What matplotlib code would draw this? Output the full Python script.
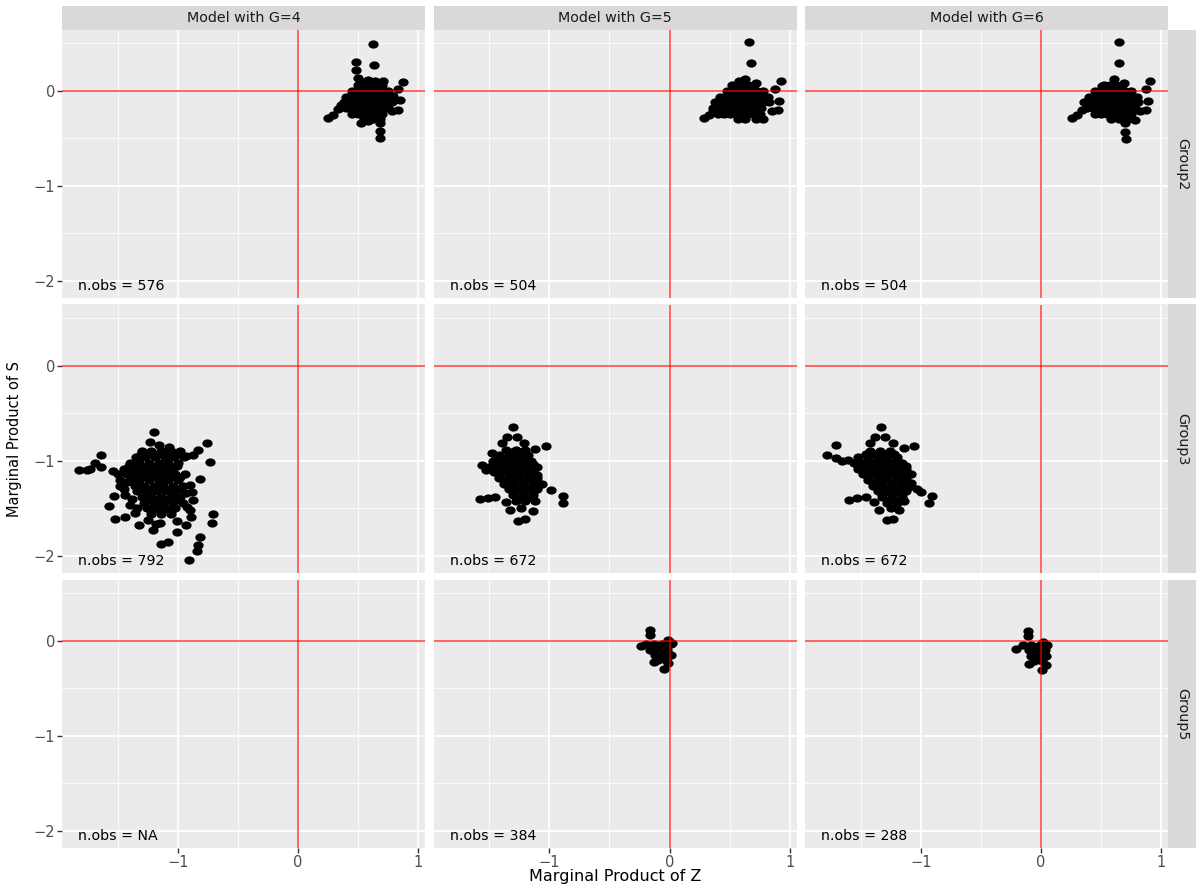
import numpy as np
import matplotlib
matplotlib.use("Agg")
import matplotlib.pyplot as plt
from matplotlib.path import Path
from matplotlib.transforms import Affine2D

models = ["Model with G=4", "Model with G=5", "Model with G=6"]
groups = ["Group2", "Group3", "Group5"]
n_obs = [["576", "504", "504"],
         ["792", "672", "672"],
         ["NA", "384", "288"]]

# (marginal product of Z, marginal product of S)
g2_g4 = [
    # dense blob
    (0.50, 0.06), (0.55, 0.06), (0.60, 0.06), (0.65, 0.06), (0.70, 0.06),
    (0.45, 0.00), (0.50, 0.00), (0.55, 0.00), (0.60, 0.00), (0.65, 0.00), (0.70, 0.00), (0.75, 0.00),
    (0.40, -0.06), (0.45, -0.06), (0.50, -0.06), (0.55, -0.06), (0.60, -0.06), (0.65, -0.06), (0.70, -0.06), (0.75, -0.06),
    (0.38, -0.12), (0.43, -0.12), (0.48, -0.12), (0.53, -0.12), (0.58, -0.12), (0.63, -0.12), (0.68, -0.12), (0.73, -0.12), (0.78, -0.12),
    (0.40, -0.18), (0.45, -0.18), (0.50, -0.18), (0.55, -0.18), (0.60, -0.18), (0.65, -0.18), (0.70, -0.18), (0.75, -0.18),
    (0.45, -0.24), (0.50, -0.24), (0.55, -0.24), (0.60, -0.24), (0.65, -0.24), (0.70, -0.24),
    (0.55, -0.29), (0.62, -0.29), (0.68, -0.29),
    (0.50, 0.14), (0.58, 0.12), (0.71, 0.11), (0.54, 0.09), (0.64, 0.10),
    # tails and outliers
    (0.25, -0.28), (0.29, -0.25), (0.33, -0.19), (0.36, -0.15),
    (0.62, 0.49), (0.48, 0.30), (0.48, 0.22), (0.63, 0.27),
    (0.87, 0.09), (0.83, 0.02), (0.85, -0.10), (0.83, -0.20), (0.79, -0.05), (0.78, -0.21),
    (0.68, -0.34), (0.68, -0.42), (0.68, -0.49), (0.52, -0.34), (0.58, -0.32),
]
g2_g5 = [
    (0.55, 0.06), (0.60, 0.06), (0.65, 0.06), (0.70, 0.06),
    (0.48, 0.00), (0.53, 0.00), (0.58, 0.00), (0.63, 0.00), (0.68, 0.00), (0.73, 0.00), (0.78, 0.00),
    (0.42, -0.06), (0.47, -0.06), (0.52, -0.06), (0.57, -0.06), (0.62, -0.06), (0.67, -0.06), (0.72, -0.06), (0.77, -0.06), (0.82, -0.06),
    (0.38, -0.12), (0.43, -0.12), (0.48, -0.12), (0.53, -0.12), (0.58, -0.12), (0.63, -0.12), (0.68, -0.12), (0.73, -0.12), (0.78, -0.12), (0.83, -0.12),
    (0.36, -0.18), (0.41, -0.18), (0.46, -0.18), (0.51, -0.18), (0.56, -0.18), (0.61, -0.18), (0.66, -0.18), (0.71, -0.18), (0.76, -0.18),
    (0.40, -0.24), (0.45, -0.24), (0.50, -0.24), (0.55, -0.24), (0.60, -0.24), (0.65, -0.24), (0.70, -0.24), (0.75, -0.24),
    (0.57, -0.29), (0.63, -0.29), (0.72, -0.29), (0.78, -0.29),
    (0.52, 0.06), (0.63, 0.13), (0.72, 0.08), (0.58, 0.10),
    (0.29, -0.28), (0.33, -0.25), (0.36, -0.21),
    (0.66, 0.52), (0.68, 0.29),
    (0.93, 0.10), (0.88, 0.02), (0.91, -0.11), (0.90, -0.20), (0.85, -0.21),
]
g2_g6 = [
    (0.52, 0.06), (0.57, 0.06), (0.62, 0.06), (0.67, 0.06),
    (0.45, 0.00), (0.50, 0.00), (0.55, 0.00), (0.60, 0.00), (0.65, 0.00), (0.70, 0.00), (0.75, 0.00),
    (0.40, -0.06), (0.45, -0.06), (0.50, -0.06), (0.55, -0.06), (0.60, -0.06), (0.65, -0.06), (0.70, -0.06), (0.75, -0.06), (0.80, -0.06),
    (0.36, -0.12), (0.41, -0.12), (0.46, -0.12), (0.51, -0.12), (0.56, -0.12), (0.61, -0.12), (0.66, -0.12), (0.71, -0.12), (0.76, -0.12), (0.81, -0.12),
    (0.38, -0.18), (0.43, -0.18), (0.48, -0.18), (0.53, -0.18), (0.58, -0.18), (0.63, -0.18), (0.68, -0.18), (0.73, -0.18), (0.78, -0.18),
    (0.45, -0.24), (0.50, -0.24), (0.55, -0.24), (0.60, -0.24), (0.65, -0.24), (0.70, -0.24), (0.75, -0.24),
    (0.58, -0.29), (0.65, -0.29), (0.72, -0.29), (0.78, -0.31),
    (0.51, 0.05), (0.61, 0.13), (0.69, 0.08),
    (0.26, -0.28), (0.30, -0.25), (0.34, -0.20),
    (0.65, 0.52), (0.65, 0.29),
    (0.91, 0.10), (0.87, 0.02), (0.89, -0.11), (0.87, -0.20), (0.82, -0.21),
    (0.70, -0.34), (0.70, -0.43), (0.71, -0.51),
]

g3_g4 = [
    # dense blob
    (-1.30, -0.90), (-1.22, -0.90), (-1.14, -0.90), (-1.06, -0.90), (-0.98, -0.90),
    (-1.31, -0.93), (-1.23, -0.93), (-1.15, -0.93), (-1.07, -0.93), (-0.99, -0.93),
    (-1.35, -0.96), (-1.27, -0.96), (-1.19, -0.96), (-1.11, -0.96), (-1.03, -0.96), (-0.95, -0.96),
    (-1.40, -1.02), (-1.32, -1.02), (-1.24, -1.02), (-1.16, -1.02), (-1.08, -1.02), (-1.00, -1.02),
    (-1.41, -1.05), (-1.33, -1.05), (-1.25, -1.05), (-1.17, -1.05), (-1.09, -1.05), (-1.01, -1.05),
    (-1.45, -1.08), (-1.37, -1.08), (-1.29, -1.08), (-1.21, -1.08), (-1.13, -1.08), (-1.05, -1.08),
    (-1.42, -1.14), (-1.34, -1.14), (-1.26, -1.14), (-1.18, -1.14), (-1.10, -1.14), (-1.02, -1.14), (-0.94, -1.14),
    (-1.38, -1.17), (-1.30, -1.17), (-1.22, -1.17), (-1.14, -1.17), (-1.06, -1.17), (-0.98, -1.17),
    (-1.40, -1.20), (-1.32, -1.20), (-1.24, -1.20), (-1.16, -1.20), (-1.08, -1.20), (-1.00, -1.20),
    (-1.36, -1.26), (-1.28, -1.26), (-1.20, -1.26), (-1.12, -1.26), (-1.04, -1.26), (-0.96, -1.26),
    (-1.30, -1.29), (-1.22, -1.29), (-1.14, -1.29), (-1.06, -1.29), (-0.98, -1.29),
    (-1.34, -1.32), (-1.26, -1.32), (-1.18, -1.32), (-1.10, -1.32), (-1.02, -1.32),
    (-1.30, -1.38), (-1.22, -1.38), (-1.14, -1.38), (-1.06, -1.38), (-0.98, -1.38),
    (-1.26, -1.41), (-1.18, -1.41), (-1.10, -1.41), (-1.02, -1.41),
    (-1.28, -1.44), (-1.20, -1.44), (-1.12, -1.44), (-1.04, -1.44), (-0.96, -1.44),
    (-1.26, -1.50), (-1.18, -1.50), (-1.10, -1.50), (-1.02, -1.50),
    (-1.22, -1.53), (-1.14, -1.53), (-1.06, -1.53),
    (-1.22, -1.56), (-1.14, -1.56), (-1.06, -1.56),
    (-1.48, -1.26), (-1.44, -1.36), (-1.40, -1.46), (-1.36, -1.55), (-1.42, -1.22), (-1.38, -1.40), (-1.34, -1.50),
    (-0.90, -1.25), (-0.88, -1.33), (-0.92, -1.48), (-0.90, -1.52),
    # spikes and outliers
    (-1.20, -0.70), (-1.23, -0.80), (-1.16, -0.83), (-1.07, -0.85),
    (-0.76, -0.81), (-0.73, -1.01), (-0.83, -0.88), (-0.87, -0.94), (-0.93, -0.95),
    (-1.82, -1.09), (-1.76, -1.09), (-1.73, -1.08), (-1.69, -1.02), (-1.64, -0.94), (-1.64, -1.06),
    (-1.54, -1.11), (-1.48, -1.20), (-1.50, -1.14),
    (-0.82, -1.19), (-0.93, -1.34), (-0.87, -1.41), (-0.89, -1.59), (-0.93, -1.67), (-1.01, -1.63),
    (-0.71, -1.56), (-0.72, -1.65), (-0.82, -1.80), (-0.83, -1.88), (-0.84, -1.95), (-0.91, -2.04),
    (-1.14, -1.87), (-1.08, -1.85), (-1.01, -1.75), (-1.21, -1.73), (-1.32, -1.67), (-1.18, -1.66),
    (-1.25, -1.62), (-1.15, -1.65),
    (-1.52, -1.61), (-1.44, -1.59), (-1.57, -1.47), (-1.53, -1.37), (-1.45, -1.30),
]
g3_g5 = [
    (-1.36, -0.88), (-1.28, -0.88), (-1.20, -0.88),
    (-1.32, -0.91), (-1.24, -0.91),
    (-1.42, -0.94), (-1.34, -0.94), (-1.26, -0.94), (-1.18, -0.94),
    (-1.43, -0.97), (-1.35, -0.97), (-1.27, -0.97), (-1.19, -0.97),
    (-1.47, -1.00), (-1.39, -1.00), (-1.31, -1.00), (-1.23, -1.00), (-1.15, -1.00),
    (-1.46, -1.03), (-1.38, -1.03), (-1.30, -1.03), (-1.22, -1.03), (-1.14, -1.03),
    (-1.50, -1.06), (-1.42, -1.06), (-1.34, -1.06), (-1.26, -1.06), (-1.18, -1.06), (-1.10, -1.06),
    (-1.46, -1.09), (-1.38, -1.09), (-1.30, -1.09), (-1.22, -1.09), (-1.14, -1.09),
    (-1.46, -1.12), (-1.38, -1.12), (-1.30, -1.12), (-1.22, -1.12), (-1.14, -1.12),
    (-1.42, -1.15), (-1.34, -1.15), (-1.26, -1.15), (-1.18, -1.15), (-1.10, -1.15),
    (-1.42, -1.18), (-1.34, -1.18), (-1.26, -1.18), (-1.18, -1.18), (-1.10, -1.18),
    (-1.38, -1.21), (-1.30, -1.21), (-1.22, -1.21), (-1.14, -1.21),
    (-1.38, -1.24), (-1.30, -1.24), (-1.22, -1.24), (-1.14, -1.24), (-1.06, -1.24),
    (-1.34, -1.27), (-1.26, -1.27), (-1.18, -1.27), (-1.10, -1.27),
    (-1.34, -1.30), (-1.26, -1.30), (-1.18, -1.30), (-1.10, -1.30),
    (-1.30, -1.33), (-1.22, -1.33), (-1.14, -1.33),
    (-1.30, -1.36), (-1.22, -1.36), (-1.14, -1.36),
    (-1.26, -1.39), (-1.18, -1.39),
    (-1.28, -1.42), (-1.20, -1.42),
    (-1.30, -0.64), (-1.35, -0.75), (-1.27, -0.75), (-1.39, -0.81), (-1.21, -0.81),
    (-1.03, -0.84), (-1.12, -0.87),
    (-1.56, -1.04), (-1.48, -0.92), (-1.53, -1.09),
    (-0.99, -1.31), (-0.89, -1.37), (-0.89, -1.44),
    (-1.58, -1.40), (-1.51, -1.39), (-1.45, -1.38), (-1.33, -1.52), (-1.14, -1.53), (-1.26, -1.63), (-1.20, -1.61),
    (-1.12, -1.42), (-1.36, -1.43), (-1.24, -1.50),
]
g3_g6 = [
    (-1.42, -0.90), (-1.34, -0.90), (-1.26, -0.90),
    (-1.46, -0.93), (-1.38, -0.93), (-1.30, -0.93), (-1.22, -0.93),
    (-1.52, -0.96), (-1.44, -0.96), (-1.36, -0.96), (-1.28, -0.96), (-1.20, -0.96),
    (-1.52, -0.99), (-1.44, -0.99), (-1.36, -0.99), (-1.28, -0.99), (-1.20, -0.99),
    (-1.56, -1.02), (-1.48, -1.02), (-1.40, -1.02), (-1.32, -1.02), (-1.24, -1.02), (-1.16, -1.02),
    (-1.52, -1.05), (-1.44, -1.05), (-1.36, -1.05), (-1.28, -1.05), (-1.20, -1.05), (-1.12, -1.05),
    (-1.52, -1.08), (-1.44, -1.08), (-1.36, -1.08), (-1.28, -1.08), (-1.20, -1.08), (-1.12, -1.08),
    (-1.48, -1.11), (-1.40, -1.11), (-1.32, -1.11), (-1.24, -1.11), (-1.16, -1.11),
    (-1.48, -1.14), (-1.40, -1.14), (-1.32, -1.14), (-1.24, -1.14), (-1.16, -1.14), (-1.08, -1.14),
    (-1.44, -1.17), (-1.36, -1.17), (-1.28, -1.17), (-1.20, -1.17), (-1.12, -1.17),
    (-1.44, -1.20), (-1.36, -1.20), (-1.28, -1.20), (-1.20, -1.20), (-1.12, -1.20),
    (-1.40, -1.23), (-1.32, -1.23), (-1.24, -1.23), (-1.16, -1.23), (-1.08, -1.23),
    (-1.40, -1.26), (-1.32, -1.26), (-1.24, -1.26), (-1.16, -1.26), (-1.08, -1.26),
    (-1.36, -1.29), (-1.28, -1.29), (-1.20, -1.29), (-1.12, -1.29),
    (-1.36, -1.32), (-1.28, -1.32), (-1.20, -1.32), (-1.12, -1.32),
    (-1.32, -1.35), (-1.24, -1.35), (-1.16, -1.35),
    (-1.32, -1.38), (-1.24, -1.38), (-1.16, -1.38),
    (-1.26, -1.41), (-1.18, -1.41),
    (-1.28, -1.44), (-1.20, -1.44),
    (-1.33, -0.64), (-1.38, -0.75), (-1.30, -0.75), (-1.42, -0.81), (-1.23, -0.81),
    (-1.06, -0.84), (-1.14, -0.86),
    (-1.71, -0.83), (-1.78, -0.94), (-1.71, -0.97), (-1.61, -0.99), (-1.66, -1.00),
    (-1.03, -1.29), (-0.91, -1.37), (-0.93, -1.44), (-1.00, -1.33),
    (-1.60, -1.41), (-1.53, -1.39), (-1.46, -1.38), (-1.35, -1.52), (-1.18, -1.52), (-1.28, -1.62), (-1.23, -1.61),
    (-1.14, -1.42), (-1.39, -1.43), (-1.25, -1.50),
]

g5_g4 = []
g5_g5 = [
    (-0.16, 0.12), (-0.16, 0.06), (-0.24, -0.05), (-0.01, 0.01), (0.02, -0.02),
    (-0.20, -0.03), (-0.13, -0.03), (-0.06, -0.03), (0.01, -0.03),
    (-0.16, -0.09), (-0.09, -0.09), (-0.02, -0.09),
    (-0.12, -0.15), (-0.05, -0.15), (0.01, -0.15),
    (-0.10, -0.20), (-0.03, -0.20),
    (-0.13, -0.22), (-0.01, -0.23), (-0.05, -0.29),
]
g5_g6 = [
    (-0.11, 0.10), (-0.11, 0.05), (-0.21, -0.08), (0.02, -0.01), (0.05, -0.04),
    (-0.15, -0.04), (-0.08, -0.04), (-0.01, -0.04), (0.04, -0.04),
    (-0.10, -0.10), (-0.03, -0.10), (0.03, -0.10),
    (-0.08, -0.16), (-0.01, -0.16), (0.04, -0.16),
    (-0.06, -0.21), (0.01, -0.21),
    (-0.10, -0.24), (0.04, -0.25), (0.01, -0.31),
]

points = [[g2_g4, g2_g5, g2_g6],
          [g3_g4, g3_g5, g3_g6],
          [g5_g4, g5_g5, g5_g6]]

W, H = 1196, 886
fig = plt.figure(figsize=(W / 100, H / 100), dpi=100)

# panel geometry in pixels
x0, y0, pw, ph = 62, 29.5, 363, 268.5
dx, dy = 371.5, 275

# the reference is a bit stretched sideways, so the dots are slightly oval
dot = Path.unit_circle().transformed(Affine2D().scale(1.25, 1.0))

for r in range(3):
    for c in range(3):
        left = x0 + c * dx
        top = y0 + r * dy
        ax = fig.add_axes([left / W, 1 - (top + ph) / H, pw / W, ph / H])
        ax.set_facecolor("#EBEBEB")
        ax.set_xlim(-1.964, 1.056)
        ax.set_ylim(-2.179, 0.647)
        ax.set_xticks([-1, 0, 1])
        ax.set_yticks([-2, -1, 0])
        ax.set_xticks([-1.5, -0.5, 0.5], minor=True)
        ax.set_yticks([-1.5, -0.5, 0.5], minor=True)
        ax.grid(which="major", color="white", lw=1.3)
        ax.grid(which="minor", color="white", lw=0.6)
        ax.set_axisbelow(True)
        for s in ax.spines.values():
            s.set_visible(False)
        ax.tick_params(which="minor", length=0)
        ax.tick_params(which="major", length=3.5, width=1, color="#333333",
                       labelsize=10.5, labelcolor="#4D4D4D", pad=1.5)
        if c != 0:
            ax.tick_params(axis="y", length=0, labelleft=False)
        if r != 2:
            ax.tick_params(axis="x", length=0, labelbottom=False)

        pts = points[r][c]
        if pts:
            xy = np.array(pts)
            ax.scatter(xy[:, 0], xy[:, 1], s=55, marker=dot, c="black", linewidths=0, zorder=2)
        ax.axhline(0, color="red", lw=1.2, alpha=0.7, zorder=3)
        ax.axvline(0, color="red", lw=1.2, alpha=0.7, zorder=3)
        ax.text(-1.83, -2.05, "n.obs = " + n_obs[r][c], ha="left", va="center",
                fontsize=10.2, color="black", zorder=4)

# strips
for c in range(3):
    sa = fig.add_axes([(x0 + c * dx) / W, 1 - y0 / H, pw / W, 24 / H])
    sa.set_facecolor("#D9D9D9")
    sa.set_xticks([])
    sa.set_yticks([])
    for s in sa.spines.values():
        s.set_visible(False)
    sa.text(0.5, 0.5, models[c], ha="center", va="center", fontsize=10.3, color="#1A1A1A")

for r in range(3):
    top = y0 + r * dy
    sa = fig.add_axes([1168 / W, 1 - (top + ph) / H, 28 / W, ph / H])
    sa.set_facecolor("#D9D9D9")
    sa.set_xticks([])
    sa.set_yticks([])
    for s in sa.spines.values():
        s.set_visible(False)
    sa.text(0.5, 0.5, groups[r], ha="center", va="center", rotation=-90,
            fontsize=10.3, color="#1A1A1A")

fig.text(615 / W, 1 - 876 / H, "Marginal Product of Z", ha="center", va="center", fontsize=11.5)
fig.text(15 / W, 1 - 439 / H, "Marginal Product of S", ha="center", va="center",
         rotation=90, fontsize=10.5)

fig.savefig("out.png", dpi=100)
